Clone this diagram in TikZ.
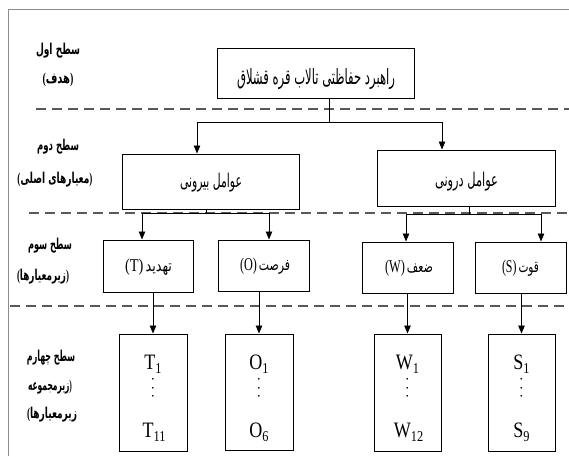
\documentclass[tikz,border=0pt]{standalone}
\usepackage{graphicx}
\usepackage{fontspec}
\setmainfont{Liberation Serif}
\newfontfamily\fafont[Script=Arabic]{DejaVu Sans}
\newfontfamily\symfont{DejaVu Sans}
\usetikzlibrary{arrows.meta}
\TeXXeTstate=1
\newcommand\fa[1]{{\fafont\beginR #1\endR}}
\newcommand\fab[1]{{\fafont\bfseries\beginR #1\endR}}
\newcommand\fitw[2]{\resizebox{#1}{\height}{#2}}
\newcommand\fs[1]{\fontsize{#1}{#1}\selectfont}
\newcommand\subtxt[2]{\scalebox{0.82}[1]{\fs{22}#1\raisebox{-4.5pt}{\fs{15}#2}}}
\begin{document}
\begin{tikzpicture}[x=1pt,y=-1pt,
  box/.style={draw=black, line width=1pt, inner sep=0pt},
  txt/.style={inner sep=0pt},
  arr/.style={line width=0.9pt, -{Triangle[length=8pt,width=6.5pt]}},
  conn/.style={line width=0.9pt},
  sepline/.style={draw=black!65, dash pattern=on 10pt off 6pt, line width=2pt},
  dot/.style={inner sep=0pt, font=\symfont\fontsize{6}{6}\selectfont},
]
\useasboundingbox (0,0) rectangle (569,456);
% frame
\draw[black!45, line width=1pt] (8,456) -- (8,9) -- (569,9);
% level separators
\draw[sepline, line width=2.6pt] (36,109) -- (569,109);
\draw[sepline] (29,213) -- (569,213);
\draw[sepline] (10,306) -- (569,306);

% level labels
\node[txt] (l1a) at (58,51) {\fitw{44pt}{\fs{15}\fab{سطح اول}}};
\node[txt] (l1b) at (58,80) {\fitw{31pt}{\fs{15}\bfseries(\fab{هدف})}};
\node[txt] (l2a) at (58,147) {\fitw{42pt}{\fs{15}\fab{سطح دوم}}};
\node[txt] (l2b) at (55,180) {\fitw{75pt}{\fs{15}\bfseries(\fab{معیارهای اصلی})}};
\node[txt] (l3a) at (50,246) {\fitw{44pt}{\fs{15}\fab{سطح سوم}}};
\node[txt] (l3b) at (43,277) {\fitw{52pt}{\fs{15}\bfseries(\fab{زیرمعیارها})}};
\node[txt] (l4a) at (51,358) {\fitw{48pt}{\fs{15}\fab{سطح چهارم}}};
\node[txt] (l4b) at (50,387) {\fitw{44pt}{\fs{15}\bfseries\fab{زیرمجموعه})}};
\node[txt] (l4c) at (52,415) {\fitw{50pt}{\fs{15}\bfseries(\fab{زیرمعیارها}}};

% level 1
\node[box, minimum width=197pt, minimum height=50pt] (goal) at (315.5,73) {};
\node[txt] (goaltxt) at (316,79) {\fitw{158pt}{\fs{21}\fa{راهبرد حفاظتی تالاب قره قشلاق}}};

% level 2
\node[box, minimum width=177pt, minimum height=55pt] (ext) at (210.5,181.5) {};
\node[txt] (exttxt) at (211,183) {\fitw{62pt}{\fs{19}\fa{عوامل بیرونی}}};
\node[box, minimum width=178pt, minimum height=56pt] (int) at (466,178) {};
\node[txt] (inttxt) at (466.5,182) {\fitw{63pt}{\fs{19}\fa{عوامل درونی}}};

% level 3
\node[box, minimum width=90pt, minimum height=52pt] (T3) at (148,266) {};
\node[txt] (T3txt) at (148.5,267) {\fitw{47pt}{\fs{18}(T)\,\fs{16}\fa{تهدید}}};
\node[box, minimum width=91pt, minimum height=51pt] (O3) at (263.5,265.5) {};
\node[txt] (O3txt) at (265,266.5) {\fitw{50pt}{\fs{18}(O)\,\fs{16}\fa{فرصت}}};
\node[box, minimum width=91pt, minimum height=51pt] (W3) at (407.5,267.5) {};
\node[txt] (W3txt) at (409,268) {\fitw{48pt}{\fs{18}(W)\,\fs{16}\fa{ضعف}}};
\node[box, minimum width=91pt, minimum height=51pt] (S3) at (520.5,267.5) {};
\node[txt] (S3txt) at (520.5,268) {\fitw{37pt}{\fs{18}(S)\,\fs{16}\fa{قوت}}};

% level 4
\node[box, minimum width=68pt, minimum height=117pt] (T4) at (153,392.5) {};
\node[box, minimum width=68pt, minimum height=116pt] (O4) at (259,392) {};
\node[box, minimum width=67pt, minimum height=117pt] (W4) at (407.5,392.5) {};
\node[box, minimum width=67pt, minimum height=117pt] (S4) at (521.5,392.5) {};

\node[txt, anchor=base] (T4a) at (153,369) {\subtxt{T}{1}};
\node[txt, anchor=base] (T4b) at (154,437) {\subtxt{T}{11}};
\node[txt, anchor=base] (O4a) at (259,369) {\subtxt{O}{1}};
\node[txt, anchor=base] (O4b) at (259,437) {\subtxt{O}{6}};
\node[txt, anchor=base] (W4a) at (407.5,369) {\subtxt{W}{1}};
\node[txt, anchor=base] (W4b) at (408.5,437) {\subtxt{W}{12}};
\node[txt, anchor=base] (S4a) at (521.5,369) {\subtxt{S}{1}};
\node[txt, anchor=base] (S4b) at (521.5,437) {\subtxt{S}{9}};
\foreach \b/\x in {T/153,O/259,W/407.5,S/521.5}{
  \node[dot] (\b4d1) at (\x,380) {•};
  \node[dot] (\b4d2) at (\x,388.5) {•};
  \node[dot] (\b4d3) at (\x,397) {•};
}

% connectors level 1 -> 2
\coordinate (j1) at (329,122);
\draw[conn] (goal.south -| j1) -- (j1);
\draw[arr] (j1) -| ([xshift=-13.5pt]ext.north);
\draw[arr] (j1) -| ([xshift=-24pt]int.north);
% level 2 -> 3
\coordinate (j2) at (206,213);
\draw[conn] (ext.south -| j2) -- (j2);
\draw[arr] (j2) -| ([xshift=-6pt]T3.north);
\draw[arr] (j2) -| ([xshift=5.5pt]O3.north);
\coordinate (j3) at (469,214);
\draw[conn] (int.south -| j3) -- (j3);
\draw[arr] (j3) -| ([xshift=-1.5pt]W3.north);
\draw[arr] (j3) -| ([xshift=20.5pt]S3.north);
% level 3 -> 4
\draw[arr] (T3.south -| T4.north) -- (T4.north);
\draw[arr] (O3.south -| O4.north) -- (O4.north);
\draw[arr] (W3.south -| W4.north) -- (W4.north);
\draw[arr] (S3.south -| S4.north) -- (S4.north);
\end{tikzpicture}
\end{document}
